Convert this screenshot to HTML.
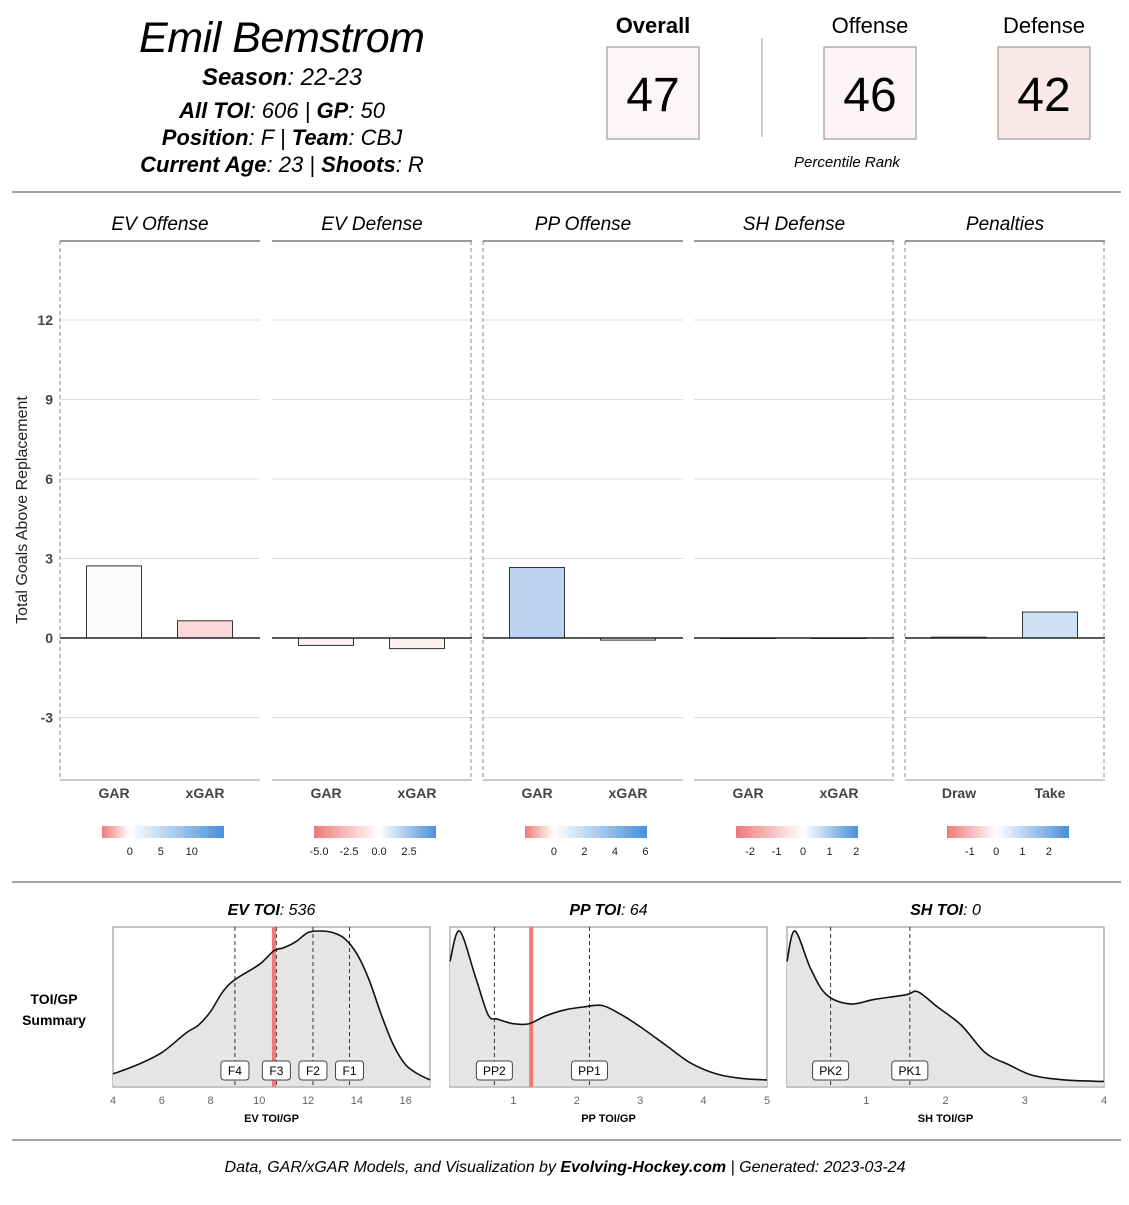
<!DOCTYPE html>
<html><head><meta charset="utf-8"><style>
body{margin:0;background:#fff;}
svg text{font-family:"Liberation Sans",sans-serif;}
</style></head><body>
<svg id="c" width="1129" height="1200" viewBox="0 0 1129 1200" xmlns="http://www.w3.org/2000/svg">
<defs id="defs"></defs>
<g>
<text x="282" y="52" font-size="43" font-style="italic" text-anchor="middle" textLength="286">Emil Bemstrom</text>
<text x="282" y="85" font-size="24" font-style="italic" text-anchor="middle"><tspan font-weight="bold">Season</tspan>: 22-23</text>
<text x="282" y="118" font-size="22" font-style="italic" text-anchor="middle"><tspan font-weight="bold">All TOI</tspan>: 606 | <tspan font-weight="bold">GP</tspan>: 50</text>
<text x="282" y="145" font-size="22" font-style="italic" text-anchor="middle"><tspan font-weight="bold">Position</tspan>: F | <tspan font-weight="bold">Team</tspan>: CBJ</text>
<text x="282" y="172" font-size="22" font-style="italic" text-anchor="middle"><tspan font-weight="bold">Current Age</tspan>: 23 | <tspan font-weight="bold">Shoots</tspan>: R</text>
<text x="653" y="33" font-size="22" font-weight="bold" text-anchor="middle">Overall</text>
<rect x="607" y="47" width="92" height="92" fill="#fcf6f6" stroke="#888"/>
<text x="653" y="111" font-size="48" text-anchor="middle">47</text>
<line x1="762" y1="38" x2="762" y2="137" stroke="#999"/>
<text x="870" y="33" font-size="22" text-anchor="middle">Offense</text>
<rect x="824" y="47" width="92" height="92" fill="#fcf4f4" stroke="#888"/>
<text x="870" y="111" font-size="48" text-anchor="middle">46</text>
<text x="1044" y="33" font-size="22" text-anchor="middle">Defense</text>
<rect x="998" y="47" width="92" height="92" fill="#fbe9e9" stroke="#888"/>
<text x="1044" y="111" font-size="48" text-anchor="middle">42</text>
<text x="847" y="167" font-size="15" font-style="italic" text-anchor="middle">Percentile Rank</text>
</g>
<line x1="12" y1="192" x2="1121" y2="192" stroke="#444"/>
<line x1="12" y1="882" x2="1121" y2="882" stroke="#444"/>
<line x1="12" y1="1140" x2="1121" y2="1140" stroke="#444"/>
<text x="565" y="1172" font-size="16" font-style="italic" text-anchor="middle">Data, GAR/xGAR Models, and Visualization by <tspan font-weight="bold">Evolving-Hockey.com</tspan> | Generated: 2023-03-24</text>
<text transform="translate(27,510) rotate(-90)" font-size="16" text-anchor="middle" fill="#222">Total Goals Above Replacement</text>
<text x="54" y="1004" font-size="14" font-weight="bold" text-anchor="middle">TOI/GP</text>
<text x="54" y="1025" font-size="14" font-weight="bold" text-anchor="middle">Summary</text>
<g id="bars"></g><g id="dens"></g>
</svg>
<script>
const NS="http://www.w3.org/2000/svg";
const panelTitles=["EV Offense","EV Defense","PP Offense","SH Defense","Penalties"];
const barCats=[["GAR","xGAR"],["GAR","xGAR"],["GAR","xGAR"],["GAR","xGAR"],["Draw","Take"]];
const barValues=[[2.72,0.65],[-0.28,-0.4],[2.66,-0.08],[0,0],[0.03,0.98]];
const barColors=[["#fdfbf9","#fdd8d8"],["#fdf0f0","#fdf0f0"],["#bcd3f0","#f4f6fb"],["#fff","#fff"],["#fbf8f8","#cfe0f5"]];
const yTicks=[-3,0,3,6,9,12];
const legendTicks=[[0,5,10],[-5.0,-2.5,0.0,2.5],[0,2,4,6],[-2,-1,0,1,2],[-1,0,1,2]];
const legendLabels=[["0","5","10"],["-5.0","-2.5","0.0","2.5"],["0","2","4","6"],["-2","-1","0","1","2"],["-1","0","1","2"]];
const legendRanges=[[-4.5,15.2],[-5.42,4.75],[-1.9,6.1],[-2.53,2.07],[-1.87,2.77]];
const panelX=[60,272,483,694,905], PW=200;
const yTop=241,yBot=780;
const yS=v=>638-v*26.5;
function mk(t,a,p){const e=document.createElementNS(NS,t);for(const k in a)e.setAttribute(k,a[k]);(p||document.getElementById('bars')).appendChild(e);return e;}
const DEF=document.getElementById('defs');
const dashed=[[60],[471],[483],[893],[905,1104]];
panelX.forEach((px,i)=>{
  const g=mk('g',{});
  
  
  const t=mk('text',{x:px+PW/2,y:230,'font-size':19,'font-style':'italic','text-anchor':'middle'},g);t.textContent=panelTitles[i];
  
  
  yTicks.forEach(v=>{const l=mk('line',{x1:px,x2:px+PW,y1:yS(v),y2:yS(v),stroke:'#ddd'},g);
    
    });
  mk('line',{x1:px,x2:px+PW,y1:yTop,y2:yTop,stroke:'#999','stroke-width':2},g);
  mk('line',{x1:px,x2:px+PW,y1:yBot,y2:yBot,stroke:'#999'},g);
  dashed[i].forEach(x=>mk('line',{x1:x,x2:x,y1:yTop,y2:yBot,stroke:'#888','stroke-dasharray':'4,3'},g));
  barValues[i].forEach((v,j)=>{
    const cx=px+54+j*91;
    const r=mk('rect',{x:cx-27.5,width:55,y:Math.min(yS(v),yS(0)),height:Math.max(Math.abs(yS(v)-yS(0)),0.5),fill:barColors[i][j],stroke:'#333'},g);
    
    
    const c=mk('text',{x:cx,y:798,'font-size':14,'font-weight':'bold','text-anchor':'middle',fill:'#444'},g);c.textContent=barCats[i][j];
    
    
  });
  mk('line',{x1:px,x2:px+PW,y1:yS(0),y2:yS(0),stroke:'#222','stroke-width':1.5},g);
  const lx=px+42,lw=122,[a,b]=legendRanges[i];
  const off=(0-a)/(b-a);
  const gr=mk('linearGradient',{id:'lg'+i,x1:0,x2:1},DEF);
  mk('stop',{offset:0,'stop-color':'#f07a7a'},gr);
  mk('stop',{offset:off,'stop-color':'#fff'},gr);
  mk('stop',{offset:1,'stop-color':'#4a90d9'},gr);
  const lr=mk('rect',{x:lx,y:826,width:lw,height:12,fill:'url(#lg'+i+')'},g);
  
  
  legendTicks[i].forEach((v,k)=>{const x=lx+(v-a)/(b-a)*lw;
    const tt=mk('text',{x:x,y:855,'font-size':11,'text-anchor':'middle',fill:'#222'},g);tt.textContent=legendLabels[i][k];
    
    });
});
yTicks.forEach(v=>{const t=mk('text',{x:53,y:yS(v)+5,'font-size':14,'font-weight':'bold','text-anchor':'end',fill:'#444'});t.textContent=v;
  
  });

const evX=[4,5,6,7,7.5,8,8.5,9,10,10.6,11,11.5,12,12.5,13,13.5,14,14.5,15,15.5,16,16.5,17];
const evY=[0.06,0.12,0.2,0.33,0.38,0.47,0.6,0.68,0.78,0.87,0.89,0.93,0.99,1.0,0.99,0.95,0.85,0.68,0.45,0.25,0.12,0.06,0.02];
const ppX=[0,0.15,0.4,0.6,0.75,1,1.25,1.5,1.8,2.1,2.4,2.7,3,3.4,3.8,4.2,4.6,5];
const ppY=[0.8,1.0,0.7,0.45,0.42,0.39,0.39,0.44,0.48,0.5,0.51,0.45,0.37,0.25,0.13,0.06,0.03,0.02];
const shX=[0,0.1,0.3,0.5,0.8,1.1,1.5,1.65,1.9,2.2,2.5,2.8,3.1,3.5,4];
const shY=[0.8,1.0,0.75,0.58,0.52,0.55,0.58,0.6,0.5,0.38,0.2,0.12,0.05,0.02,0.01];
const evLines=[9.0,10.7,12.2,13.7], evLineLabels=["F4","F3","F2","F1"], evPlayer=10.6;
const ppLines=[0.7,2.2], ppLineLabels=["PP2","PP1"], ppPlayer=1.28;
const shLines=[0.55,1.55], shLineLabels=["PK2","PK1"], shPlayer=null;
const evTicks=[4,6,8,10,12,14,16], ppTicks=[1,2,3,4,5], shTicks=[1,2,3,4];
const dens=[
 {title:"EV TOI",val:"536",ax:"EV TOI/GP",x0:113,min:4,max:17,xs:evX,ys:evY,lines:evLines,labs:evLineLabels,pl:evPlayer,ticks:evTicks},
 {title:"PP TOI",val:"64",ax:"PP TOI/GP",x0:450,min:0,max:5,xs:ppX,ys:ppY,lines:ppLines,labs:ppLineLabels,pl:ppPlayer,ticks:ppTicks},
 {title:"SH TOI",val:"0",ax:"SH TOI/GP",x0:787,min:0,max:4,xs:shX,ys:shY,lines:shLines,labs:shLineLabels,pl:shPlayer,ticks:shTicks}];
const D=document.getElementById('dens');
dens.forEach(d=>{
  const g=mk('g',{},D);
  
  
  const W=317,top=927,bot=1087;
  const xS=v=>d.x0+(v-d.min)/(d.max-d.min)*W, yD=v=>1083-v*152;
  const t=mk('text',{x:d.x0+W/2,y:915,'font-size':16,'font-style':'italic','text-anchor':'middle'},g);
  t.innerHTML='<tspan font-weight="bold">'+d.title+'</tspan>: '+d.val;
  
  
  mk('rect',{x:d.x0,y:top,width:W,height:bot-top,fill:'#fff',stroke:'#888'},g);
  const pts=d.xs.map((x,i)=>[xS(x),yD(d.ys[i])]);
  let p='M'+pts[0].join(',');
  for(let i=1;i<pts.length;i++){const p0=pts[i-2]||pts[i-1],p1=pts[i-1],p2=pts[i],p3=pts[i+1]||p2;
    p+=` C${p1[0]+(p2[0]-p0[0])/6},${p1[1]+(p2[1]-p0[1])/6} ${p2[0]-(p3[0]-p1[0])/6},${p2[1]-(p3[1]-p1[1])/6} ${p2[0]},${p2[1]}`;}
  const area=mk('path',{d:p+` L${xS(d.max)},${bot-1} L${xS(d.min)},${bot-1}Z`,fill:'#e5e5e5'},g);
  
  
  d.lines.forEach((v,i)=>{
    mk('line',{x1:xS(v),x2:xS(v),y1:top,y2:bot,stroke:'#333','stroke-dasharray':'4,3'},g);
  });
  if(d.pl!==null){const pl=mk('line',{x1:xS(d.pl),x2:xS(d.pl),y1:top,y2:bot,stroke:'#f07a7a','stroke-width':4},g);
    
    }
  const cv=mk('path',{d:p,fill:'none',stroke:'#111','stroke-width':1.6},g);
  
  
  d.lines.forEach((v,i)=>{
    const w=d.labs[i].length*8+12;
    mk('rect',{x:xS(v)-w/2,y:1061,width:w,height:19,rx:3,fill:'#fff',stroke:'#444'},g);
    const lt=mk('text',{x:xS(v),y:1075,'font-size':12,'text-anchor':'middle'},g);lt.textContent=d.labs[i];
    
    
  });
  d.ticks.forEach(v=>{const tt=mk('text',{x:xS(v),y:1104,'font-size':11,'text-anchor':'middle',fill:'#666'},g);tt.textContent=v;
    
    });
  const at=mk('text',{x:d.x0+W/2,y:1122,'font-size':11,'font-weight':'bold','text-anchor':'middle'},g);at.textContent=d.ax;
  
  
});
</script>
</body></html>
